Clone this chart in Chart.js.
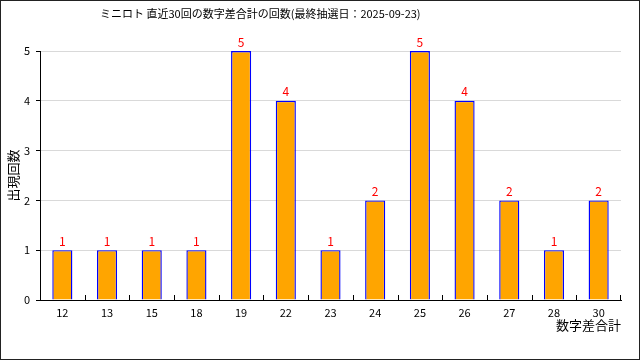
<!DOCTYPE html>
<html>
<head>
<meta charset="utf-8">
<script src="https://cdn.jsdelivr.net/npm/chart.js@4/dist/chart.umd.min.js"></script>
<style>
  body { margin: 0; background: #fff; }
  #wrap { width: 640px; height: 360px; }
</style>
</head>
<body>
<div id="wrap"><canvas id="chart" width="640" height="360"></canvas></div>
<script>
const sums = ['12', '13', '15', '18', '19', '22', '23', '24', '25', '26', '27', '28', '30'];
const counts = [1, 1, 1, 1, 5, 4, 1, 2, 5, 4, 2, 1, 2];
const titleText = 'ミニロト 直近30回の数字差合計の回数(最終抽選日：2025-09-23)';

const FONT = '"Noto Sans CJK JP", sans-serif';

// title, value labels above bars, inward x ticks, outer frame
const extras = {
    id: 'extras',
    afterDatasetsDraw(chart) {
        const ctx = chart.ctx;
        const meta = chart.getDatasetMeta(0);
        ctx.save();
        ctx.fillStyle = '#ff0000';
        ctx.font = '12px ' + FONT;
        ctx.textAlign = 'center';
        ctx.textBaseline = 'bottom';
        meta.data.forEach((bar, i) => {
            ctx.fillText(counts[i], bar.x, bar.y - 3);
        });
        ctx.restore();
    },
    afterDraw(chart) {
        const ctx = chart.ctx;
        const x = chart.scales.x;
        const bottom = chart.chartArea.bottom;
        ctx.save();
        ctx.fillStyle = '#000';
        ctx.font = '11px ' + FONT;
        ctx.textAlign = 'left';
        ctx.textBaseline = 'middle';
        ctx.fillText(titleText, 100, 14);

        ctx.strokeStyle = '#000';
        ctx.lineWidth = 1;
        ctx.beginPath();
        for (let i = 1; i <= sums.length; i++) {
            let px;
            if (i < sums.length) {
                px = Math.round((x.getPixelForTick(i - 1) + x.getPixelForTick(i)) / 2) + 0.5;
            } else {
                px = Math.round(x.right) - 0.5;
            }
            ctx.moveTo(px, bottom);
            ctx.lineTo(px, bottom - 5);
        }
        ctx.stroke();
        ctx.strokeStyle = '#222';
        ctx.strokeRect(0.5, 0.5, chart.width - 1, chart.height - 1);
        ctx.restore();
    }
};

new Chart(document.getElementById('chart'), {
    type: 'bar',
    data: {
        labels: sums,
        datasets: [{
            data: counts,
            backgroundColor: '#ffa500',
            borderColor: '#0000ff',
            borderWidth: 1.4,
            borderSkipped: 'bottom',
            inflateAmount: 0,
            categoryPercentage: 1,
            barPercentage: 0.45
        }]
    },
    options: {
        responsive: false,
        animation: false,
        layout: { padding: { left: 5, right: 19, top: 51, bottom: 27 } },
        plugins: {
            legend: { display: false },
            tooltip: { enabled: false },
            title: { display: false }
        },
        scales: {
            x: {
                offset: true,
                grid: { display: false, drawTicks: false },
                border: { display: true, color: '#000' },
                ticks: { color: '#000', font: { family: FONT, size: 11 }, padding: 6, maxRotation: 0 },
                title: {
                    display: true, text: '数字差合計', align: 'end', color: '#000',
                    font: { family: FONT, size: 13 }, padding: 0
                },
                afterFit(s) { s.height = 33; }
            },
            y: {
                min: 0,
                max: 5,
                ticks: { stepSize: 1, color: '#000', font: { family: FONT, size: 11 }, padding: 6 },
                grid: { color: '#d9d9d9', tickColor: '#000', tickLength: 4 },
                border: { display: true, color: '#000' },
                title: {
                    display: true, text: '出現回数', color: '#000',
                    font: { family: FONT, size: 13 }, padding: 0
                },
                afterFit(s) { s.width = 35; }
            }
        }
    },
    plugins: [extras]
});
</script>
</body>
</html>
